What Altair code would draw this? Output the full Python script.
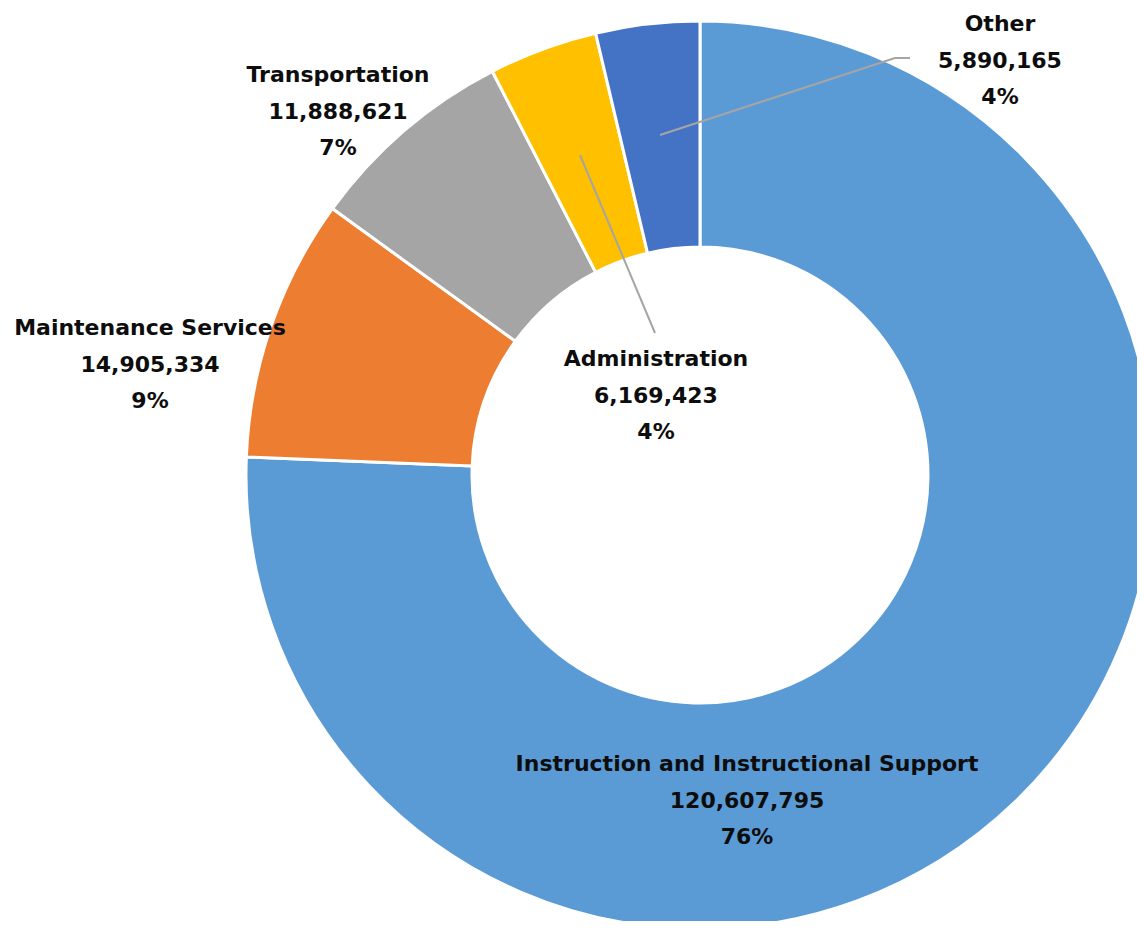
import altair as alt
import pandas as pd

categories = ["Instruction and Instructional Support", "Maintenance Services",
              "Transportation", "Administration", "Other"]
values = [120607795, 14905334, 11888621, 6169423, 5890165]
colors = ["#5B9BD5", "#ED7D31", "#A5A5A5", "#FFC000", "#4472C4"]

df = pd.DataFrame({"name": categories, "value": values, "idx": list(range(len(categories)))})

OX, OY = 8, 8  # page margin
CX, CY = 700 - OX, 475 - OY

base = alt.Chart(df)

arcs = base.mark_arc(outerRadius=454, innerRadius=228, stroke="white", strokeWidth=3).encode(
    theta=alt.Theta("value:Q", stack=True),
    order=alt.Order("idx:Q"),
    color=alt.Color("name:N", scale=alt.Scale(domain=categories, range=colors), legend=None),
    x=alt.value(CX), y=alt.value(CY),
)

# leader lines (annotation styling)
leaders = [
    ((910, 58), (895, 58)),
    ((895, 58), (660, 135)),
    ((580, 155), (655, 333)),
]
leader_layers = []
for a, b in leaders:
    leader_layers.append(
        alt.Chart(df.head(1)).mark_rule(color="#A5A5A5", strokeWidth=2).encode(
            x=alt.value(a[0] - OX), y=alt.value(a[1] - OY),
            x2=alt.value(b[0] - OX), y2=alt.value(b[1] - OY))
    )

# label anchor positions (page pixel centers of first line)
label_pos = {
    "Instruction and Instructional Support": (747, 764),
    "Maintenance Services": (150, 328),
    "Transportation": (338, 75),
    "Administration": (656, 359),
    "Other": (1000, 24),
}

text_base = base.transform_joinaggregate(total="sum(value)").transform_calculate(
    label="[datum.name, format(datum.value, ','), format(datum.value / datum.total, '.0%')]"
)

label_layers = []
for name, (lx, ly) in label_pos.items():
    label_layers.append(
        text_base.transform_filter(alt.datum.name == name).mark_text(
            font="DejaVu Sans", fontSize=22, fontWeight="bold", color="#0D0D0D",
            align="center", baseline="middle", lineHeight=36.5,
        ).encode(text="label:N", x=alt.value(lx - OX), y=alt.value(ly - OY))
    )

chart = alt.layer(arcs, *leader_layers, *label_layers).properties(
    width=1145 - 2 * OX, height=929 - 2 * OY,
    autosize=alt.AutoSizeParams(type="none"), padding=0,
).configure_view(stroke=None)

chart.save("out.html", embed_options={"renderer": "svg", "actions": False})
